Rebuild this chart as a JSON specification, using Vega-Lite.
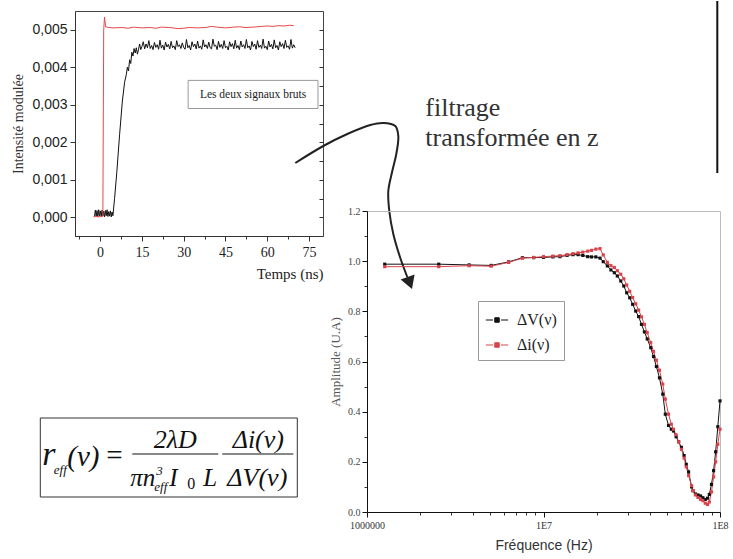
{
 "$schema": "https://vega.github.io/schema/vega-lite/v6.json",
 "padding": {"left": 11, "top": 0, "right": 5, "bottom": 5},
 "background": "white",
 "config": {"view": {"stroke": null}, "axis": {"grid": false, "labelFlush": false}},
 "bounds": "flush",
 "spacing": 44,
 "hconcat": [
  {
   "width": 248, "height": 225,
   "view": {"stroke": "#444", "strokeWidth": 1},
   "resolve": {"axis": {"x": "independent", "y": "independent"}},
   "layer": [
    {
     "data": {"name": "sig"},
     "transform": [{"filter": "datum.s == 'noir'"}],
     "mark": {"type": "line", "color": "#111", "strokeWidth": 1},
     "encoding": {
      "x": {"field": "t", "type": "quantitative", "scale": {"domain": [-9, 80], "nice": false, "zero": false},
            "axis": {"orient": "bottom", "values": [0, 15, 30, 45, 60, 75], "title": "Temps (ns)", "titleAnchor": "end", "titleFont": "Liberation Serif", "titleFontSize": 15, "titleFontWeight": "normal", "titleColor": "#222", "titlePadding": 7, "labelFont": "Liberation Serif", "labelFontSize": 14, "labelColor": "#222", "labelPadding": 4, "tickSize": 5, "tickColor": "#333", "domainColor": "#333"}},
      "y": {"field": "v", "type": "quantitative", "scale": {"domain": [-0.0005, 0.0055], "nice": false, "zero": false},
            "axis": {"orient": "left", "values": [0, 0.001, 0.002, 0.003, 0.004, 0.005], "labelExpr": "replace(format(datum.value, '.3f'), '.', ',')", "title": "Intensité modulée", "titleFont": "Liberation Serif", "titleFontSize": 14, "titleFontWeight": "normal", "titleColor": "#333", "titlePadding": 6, "labelFont": "Liberation Sans", "labelFontSize": 14, "labelColor": "#222", "labelPadding": 3, "tickSize": 5, "tickColor": "#333", "domainColor": "#333"}}
     }
    },
    {
     "data": {"name": "sig"},
     "transform": [{"filter": "datum.s == 'rouge'"}],
     "mark": {"type": "line", "color": "#e8474a", "strokeWidth": 1},
     "encoding": {
      "x": {"field": "t", "type": "quantitative", "scale": {"domain": [-9, 80], "nice": false, "zero": false},
            "axis": {"orient": "bottom", "values": [-7.5, 7.5, 22.5, 37.5, 52.5, 67.5], "labels": false, "title": null, "domain": false, "tickSize": 3, "tickColor": "#333"}},
      "y": {"field": "v", "type": "quantitative", "scale": {"domain": [-0.0005, 0.0055], "nice": false, "zero": false},
            "axis": {"orient": "right", "values": [0, 0.0005, 0.001, 0.0015, 0.002, 0.0025, 0.003, 0.0035, 0.004, 0.0045, 0.005], "labels": false, "title": null, "domain": false, "tickSize": 4, "offset": -4, "tickColor": "#333"}}
     }
    },
    {
     "data": {"name": "boite"},
     "mark": {"type": "rect", "fill": "white", "stroke": "#999", "strokeWidth": 1},
     "encoding": {
      "x": {"field": "t1", "type": "quantitative", "axis": null}, "x2": {"field": "t2"},
      "y": {"field": "v1", "type": "quantitative", "axis": null}, "y2": {"field": "v2"}
     }
    },
    {
     "data": {"name": "boite"},
     "mark": {"type": "text", "font": "Liberation Serif", "fontSize": 11.5, "color": "#222", "align": "center", "baseline": "middle"},
     "encoding": {
      "x": {"field": "tc", "type": "quantitative", "axis": null},
      "y": {"field": "vc", "type": "quantitative", "axis": null},
      "text": {"field": "txt"}
     }
    }
   ]
  },
  {
   "bounds": "flush",
   "spacing": 10,
   "vconcat": [
    {
     "width": 353, "height": 190,
     "view": {"stroke": null},
     "encoding": {
      "x": {"field": "x", "type": "quantitative", "scale": {"domain": [0, 353], "nice": false, "zero": false}, "axis": null},
      "y": {"field": "y", "type": "quantitative", "scale": {"domain": [0, 190], "reverse": true, "nice": false, "zero": false}, "axis": null}
     },
     "layer": [
      {"data": {"name": "barre"}, "mark": {"type": "rule", "color": "#111", "strokeWidth": 2}, "encoding": {"y2": {"field": "y2"}}},
      {"data": {"name": "etiquettes"},
       "mark": {"type": "text", "font": "Liberation Serif", "fontSize": 26, "color": "#333", "align": "left", "baseline": "alphabetic"},
       "encoding": {"text": {"field": "txt"}}},
      {"data": {"name": "fleche"},
       "mark": {"type": "line", "color": "#222", "strokeWidth": 2, "interpolate": "catmull-rom"},
       "encoding": {"order": {"field": "i", "type": "quantitative"}}},
      {"data": {"name": "pointe"},
       "mark": {"type": "point", "shape": "triangle-down", "filled": true, "color": "#222", "size": 220, "angle": -20, "opacity": 1}},
      {"data": {"values": [{"x": -326.7, "x2": -69.7, "y": 407, "y2": 486}]},
       "mark": {"type": "rect", "fill": "white", "stroke": "#333", "strokeWidth": 1},
       "encoding": {"x2": {"field": "x2"}, "y2": {"field": "y2"}}},
      {"data": {"values": [{"x": -234.7, "x2": -148.7, "y": 443}, {"x": -144.7, "x2": -73.7, "y": 443}]},
       "mark": {"type": "rule", "color": "#111", "strokeWidth": 1.2},
       "encoding": {"x2": {"field": "x2"}}},
      {"data": {"values": [{"x": -324.7, "y": 454, "txt": "r"}]},
       "mark": {"type": "text", "font": "Liberation Serif", "fontStyle": "italic", "fontSize": 34, "color": "#111", "align": "left", "baseline": "alphabetic"},
       "encoding": {"text": {"field": "txt"}}},
      {"data": {"values": [{"x": -299.7, "y": 455, "txt": "(ν)"}]},
       "mark": {"type": "text", "font": "Liberation Serif", "fontStyle": "italic", "fontSize": 29, "color": "#111", "align": "left", "baseline": "alphabetic"},
       "encoding": {"text": {"field": "txt"}}},
      {"data": {"values": [{"x": -260.7, "y": 454, "txt": "="}]},
       "mark": {"type": "text", "font": "Liberation Serif", "fontSize": 29, "color": "#111", "align": "left", "baseline": "alphabetic"},
       "encoding": {"text": {"field": "txt"}}},
      {"data": {"values": [{"x": -191.7, "y": 437, "txt": "2λD"}, {"x": -108.7, "y": 437, "txt": "Δi(ν)"}, {"x": -109.7, "y": 475, "txt": "ΔV(ν)"}]},
       "mark": {"type": "text", "font": "Liberation Serif", "fontStyle": "italic", "fontSize": 26, "color": "#111", "align": "center", "baseline": "alphabetic"},
       "encoding": {"text": {"field": "txt"}}},
      {"data": {"values": [{"x": -236.7, "y": 475, "txt": "πn"}, {"x": -197.7, "y": 475, "txt": "I"}, {"x": -163.7, "y": 475, "txt": "L"}]},
       "mark": {"type": "text", "font": "Liberation Serif", "fontStyle": "italic", "fontSize": 25, "color": "#111", "align": "left", "baseline": "alphabetic"},
       "encoding": {"text": {"field": "txt"}}},
      {"data": {"values": [{"x": -313.2, "y": 463, "txt": "eff"}, {"x": -210.7, "y": 464, "txt": "3"}, {"x": -212.7, "y": 480, "txt": "eff"}]},
       "mark": {"type": "text", "font": "Liberation Serif", "fontStyle": "italic", "fontSize": 13, "color": "#111", "align": "left", "baseline": "alphabetic"},
       "encoding": {"text": {"field": "txt"}}},
      {"data": {"values": [{"x": -179.7, "y": 478, "txt": "0"}]},
       "mark": {"type": "text", "font": "Liberation Serif", "fontSize": 16, "color": "#111", "align": "left", "baseline": "alphabetic"},
       "encoding": {"text": {"field": "txt"}}}
     ]
    },
    {
     "width": 353, "height": 301,
     "view": {"stroke": "#bbb", "strokeWidth": 1},
     "resolve": {"axis": {"x": "independent", "y": "independent"}},
     "layer": [
      {
       "data": {"name": "freq"},
       "mark": {"type": "line", "strokeWidth": 1},
       "encoding": {
        "x": {"field": "f", "type": "quantitative", "scale": {"type": "log", "domain": [1000000, 100000000], "nice": false},
              "axis": {"orient": "bottom", "values": [2000000, 3000000, 4000000, 5000000, 6000000, 7000000, 8000000, 9000000, 20000000, 30000000, 40000000, 50000000, 60000000, 70000000, 80000000, 90000000], "labels": false, "title": null, "domain": false, "tickSize": 3, "tickColor": "#333"}},
        "y": {"field": "a", "type": "quantitative", "scale": {"domain": [0, 1.2], "nice": false, "zero": false},
              "axis": {"orient": "left", "values": [0.1, 0.3, 0.5, 0.7, 0.9, 1.1], "labels": false, "title": null, "domain": false, "tickSize": 3, "tickColor": "#333"}},
        "color": {"field": "s", "type": "nominal", "scale": {"domain": ["ΔV(ν)", "Δi(ν)"], "range": ["#111111", "#d9434b"]},
                  "legend": {"orient": "none", "legendX": 403, "legendY": 290, "title": null, "strokeColor": "#999", "fillColor": "#fff", "padding": 7, "labelFont": "Liberation Serif", "labelFontSize": 16, "labelColor": "#222", "symbolType": "M-1,0L-0.35,0M0.35,0L1,0M-0.2,-0.2L0.2,-0.2L0.2,0.2L-0.2,0.2Z", "symbolSize": 500, "symbolStrokeWidth": 1, "rowPadding": 5, "labelOffset": 8,
                             "encode": {"symbols": {"update": {"fill": {"scale": "color", "field": "value"}, "stroke": {"scale": "color", "field": "value"}}}}}}
       }
      },
      {
       "data": {"name": "freq"},
       "mark": {"type": "point", "shape": "square", "filled": true, "size": 10, "opacity": 1},
       "encoding": {
        "x": {"field": "f", "type": "quantitative", "scale": {"type": "log", "domain": [1000000, 100000000], "nice": false},
              "axis": {"orient": "bottom", "values": [1000000, 10000000, 100000000], "labelExpr": "datum.value < 5000000 ? '1000000' : datum.value < 50000000 ? '1E7' : '1E8'", "title": "Fréquence (Hz)", "titleFont": "Liberation Sans", "titleFontSize": 14, "titleFontWeight": "normal", "titleColor": "#333", "titlePadding": 8, "labelFont": "Liberation Sans Narrow", "labelFontSize": 10, "labelColor": "#333", "labelPadding": 3, "tickSize": 5, "tickColor": "#111", "domainColor": "#111"}},
        "y": {"field": "a", "type": "quantitative", "scale": {"domain": [0, 1.2], "nice": false, "zero": false},
              "axis": {"orient": "left", "values": [0, 0.2, 0.4, 0.6, 0.8, 1, 1.2], "format": ".1f", "title": "Amplitude (U.A)", "titleFont": "Liberation Serif", "titleFontSize": 13, "titleFontWeight": "normal", "titleColor": "#555", "titlePadding": 5, "labelFont": "Liberation Sans Narrow", "labelFontSize": 10, "labelColor": "#444", "labelPadding": 2, "tickSize": 5, "tickColor": "#111", "domainColor": "#111"}},
        "color": {"field": "s", "type": "nominal", "scale": {"domain": ["ΔV(ν)", "Δi(ν)"], "range": ["#111111", "#d9434b"]},
                  "legend": {"orient": "none", "legendX": 403, "legendY": 290, "title": null, "strokeColor": "#999", "fillColor": "#fff", "padding": 7, "labelFont": "Liberation Serif", "labelFontSize": 16, "labelColor": "#222", "symbolType": "M-1,0L-0.35,0M0.35,0L1,0M-0.2,-0.2L0.2,-0.2L0.2,0.2L-0.2,0.2Z", "symbolSize": 500, "symbolStrokeWidth": 1, "rowPadding": 5, "labelOffset": 8,
                             "encode": {"symbols": {"update": {"fill": {"scale": "color", "field": "value"}, "stroke": {"scale": "color", "field": "value"}}}}}}
       }
      }
     ]
    }
   ]
  }
 ],
 "datasets": {
  "boite": [{"t1": 31.6, "t2": 78.2, "v1": 0.0029, "v2": 0.00365, "tc": 54.9, "vc": 0.003272, "txt": "Les deux signaux bruts"}],
  "barre": [{"x": 350.3, "y": -10, "y2": 162}],
  "etiquettes": [{"x": 58.3, "y": 105, "txt": "filtrage"}, {"x": 58.3, "y": 135, "txt": "transformée en z"}],
  "fleche": [
   {"i": 1, "x": -71.7, "y": 152}, {"i": 2, "x": -43.7, "y": 135}, {"i": 3, "x": -19.7, "y": 123}, {"i": 4, "x": 3.3, "y": 114},
   {"i": 5, "x": 16.3, "y": 112}, {"i": 6, "x": 28.3, "y": 115}, {"i": 7, "x": 31.3, "y": 125}, {"i": 8, "x": 29.3, "y": 143},
   {"i": 9, "x": 25.3, "y": 160}, {"i": 10, "x": 21.3, "y": 180}, {"i": 11, "x": 22.3, "y": 200}, {"i": 12, "x": 26.3, "y": 223},
   {"i": 13, "x": 33.3, "y": 247}, {"i": 14, "x": 40.3, "y": 266}
  ],
  "pointe": [{"x": 42.8, "y": 272}],
  "sig": [
   {"s": "noir", "t": -2.0, "v": 0.00002}, {"s": "noir", "t": -1.7, "v": 0.00019}, {"s": "noir", "t": -1.4, "v": 0.00003}, {"s": "noir", "t": -1.1, "v": 0.00018},
   {"s": "noir", "t": -0.8, "v": 0.00001}, {"s": "noir", "t": -0.5, "v": 0.0002}, {"s": "noir", "t": -0.2, "v": 0.00004}, {"s": "noir", "t": 0.1, "v": 0.00017},
   {"s": "noir", "t": 0.4, "v": 0.00002}, {"s": "noir", "t": 0.7, "v": 0.00019}, {"s": "noir", "t": 1.0, "v": 0.00003}, {"s": "noir", "t": 1.3, "v": 0.00016},
   {"s": "noir", "t": 1.6, "v": 0.00001}, {"s": "noir", "t": 1.9, "v": 0.00018}, {"s": "noir", "t": 2.2, "v": 0.00004}, {"s": "noir", "t": 2.5, "v": 0.0002},
   {"s": "noir", "t": 2.8, "v": 0.00002}, {"s": "noir", "t": 3.1, "v": 0.00015}, {"s": "noir", "t": 3.4, "v": 0.00003}, {"s": "noir", "t": 3.7, "v": 0.00017},
   {"s": "noir", "t": 4.0, "v": 0.00001}, {"s": "noir", "t": 4.3, "v": 0.00014}, {"s": "noir", "t": 4.6, "v": 0.00004},
   {"s": "noir", "t": 5.2, "v": 0.0005}, {"s": "noir", "t": 6.0, "v": 0.0012}, {"s": "noir", "t": 7.0, "v": 0.0022}, {"s": "noir", "t": 8.0, "v": 0.0031},
   {"s": "noir", "t": 8.8, "v": 0.0036}, {"s": "noir", "t": 9.4, "v": 0.0038}, {"s": "noir", "t": 9.8, "v": 0.004}, {"s": "noir", "t": 10.2, "v": 0.0039},
   {"s": "noir", "t": 10.6, "v": 0.0042}, {"s": "noir", "t": 11.0, "v": 0.0041}, {"s": "noir", "t": 11.4, "v": 0.0044}, {"s": "noir", "t": 11.8, "v": 0.0043},
   {"s": "noir", "t": 12.2, "v": 0.0045}, {"s": "noir", "t": 12.6, "v": 0.00438}, {"s": "noir", "t": 13.0, "v": 0.00452}, {"s": "noir", "t": 13.4, "v": 0.00435},
   {"s": "noir", "t": 13.8, "v": 0.00448}, {"s": "noir", "t": 14.2, "v": 0.00462}, {"s": "noir", "t": 14.6, "v": 0.00447},
   {"s": "noir", "t": 15.0, "v": 0.00455}, {"s": "noir", "t": 15.5, "v": 0.00468}, {"s": "noir", "t": 16.0, "v": 0.00449}, {"s": "noir", "t": 16.5, "v": 0.00462},
   {"s": "noir", "t": 17.0, "v": 0.00452}, {"s": "noir", "t": 17.5, "v": 0.00471}, {"s": "noir", "t": 18.0, "v": 0.0045}, {"s": "noir", "t": 18.5, "v": 0.00458},
   {"s": "noir", "t": 19.0, "v": 0.00447}, {"s": "noir", "t": 19.5, "v": 0.00466}, {"s": "noir", "t": 20.0, "v": 0.00453}, {"s": "noir", "t": 20.5, "v": 0.0046},
   {"s": "noir", "t": 21.0, "v": 0.00448}, {"s": "noir", "t": 21.5, "v": 0.00472}, {"s": "noir", "t": 22.0, "v": 0.00451}, {"s": "noir", "t": 22.5, "v": 0.00459},
   {"s": "noir", "t": 23.0, "v": 0.00446}, {"s": "noir", "t": 23.5, "v": 0.00467}, {"s": "noir", "t": 24.0, "v": 0.00454}, {"s": "noir", "t": 24.5, "v": 0.00461},
   {"s": "noir", "t": 25.0, "v": 0.00449}, {"s": "noir", "t": 25.5, "v": 0.00469}, {"s": "noir", "t": 26.0, "v": 0.00452}, {"s": "noir", "t": 26.5, "v": 0.00457},
   {"s": "noir", "t": 27.0, "v": 0.00447}, {"s": "noir", "t": 27.5, "v": 0.00471}, {"s": "noir", "t": 28.0, "v": 0.00455}, {"s": "noir", "t": 28.5, "v": 0.0046},
   {"s": "noir", "t": 29.0, "v": 0.0045}, {"s": "noir", "t": 29.5, "v": 0.00465}, {"s": "noir", "t": 30.0, "v": 0.00453}, {"s": "noir", "t": 30.5, "v": 0.00448},
   {"s": "noir", "t": 31.0, "v": 0.00474}, {"s": "noir", "t": 31.5, "v": 0.00452}, {"s": "noir", "t": 32.0, "v": 0.00458}, {"s": "noir", "t": 32.5, "v": 0.00446},
   {"s": "noir", "t": 33.0, "v": 0.00468}, {"s": "noir", "t": 33.5, "v": 0.00455}, {"s": "noir", "t": 34.0, "v": 0.00462}, {"s": "noir", "t": 34.5, "v": 0.00449},
   {"s": "noir", "t": 35.0, "v": 0.0047}, {"s": "noir", "t": 35.5, "v": 0.00451}, {"s": "noir", "t": 36.0, "v": 0.00457}, {"s": "noir", "t": 36.5, "v": 0.00448},
   {"s": "noir", "t": 37.0, "v": 0.00473}, {"s": "noir", "t": 37.5, "v": 0.00454}, {"s": "noir", "t": 38.0, "v": 0.0046}, {"s": "noir", "t": 38.5, "v": 0.0045},
   {"s": "noir", "t": 39.0, "v": 0.00467}, {"s": "noir", "t": 39.5, "v": 0.00452}, {"s": "noir", "t": 40.0, "v": 0.00449}, {"s": "noir", "t": 40.5, "v": 0.00475},
   {"s": "noir", "t": 41.0, "v": 0.00456}, {"s": "noir", "t": 41.5, "v": 0.00459}, {"s": "noir", "t": 42.0, "v": 0.00447}, {"s": "noir", "t": 42.5, "v": 0.00469},
   {"s": "noir", "t": 43.0, "v": 0.00453}, {"s": "noir", "t": 43.5, "v": 0.00461}, {"s": "noir", "t": 44.0, "v": 0.0045}, {"s": "noir", "t": 44.5, "v": 0.00471},
   {"s": "noir", "t": 45.0, "v": 0.00452}, {"s": "noir", "t": 45.5, "v": 0.00456}, {"s": "noir", "t": 46.0, "v": 0.00446}, {"s": "noir", "t": 46.5, "v": 0.00468},
   {"s": "noir", "t": 47.0, "v": 0.00455}, {"s": "noir", "t": 47.5, "v": 0.00463}, {"s": "noir", "t": 48.0, "v": 0.00449}, {"s": "noir", "t": 48.5, "v": 0.00472},
   {"s": "noir", "t": 49.0, "v": 0.00451}, {"s": "noir", "t": 49.5, "v": 0.00458}, {"s": "noir", "t": 50.0, "v": 0.00447}, {"s": "noir", "t": 50.5, "v": 0.0047},
   {"s": "noir", "t": 51.0, "v": 0.00454}, {"s": "noir", "t": 51.5, "v": 0.0046}, {"s": "noir", "t": 52.0, "v": 0.0045}, {"s": "noir", "t": 52.5, "v": 0.00474},
   {"s": "noir", "t": 53.0, "v": 0.00452}, {"s": "noir", "t": 53.5, "v": 0.00457}, {"s": "noir", "t": 54.0, "v": 0.00446}, {"s": "noir", "t": 54.5, "v": 0.00469},
   {"s": "noir", "t": 55.0, "v": 0.00455}, {"s": "noir", "t": 55.5, "v": 0.00462}, {"s": "noir", "t": 56.0, "v": 0.00448}, {"s": "noir", "t": 56.5, "v": 0.00471},
   {"s": "noir", "t": 57.0, "v": 0.00453}, {"s": "noir", "t": 57.5, "v": 0.00459}, {"s": "noir", "t": 58.0, "v": 0.0045}, {"s": "noir", "t": 58.5, "v": 0.00475},
   {"s": "noir", "t": 59.0, "v": 0.00451}, {"s": "noir", "t": 59.5, "v": 0.00456}, {"s": "noir", "t": 60.0, "v": 0.00447}, {"s": "noir", "t": 60.5, "v": 0.0047},
   {"s": "noir", "t": 61.0, "v": 0.00454}, {"s": "noir", "t": 61.5, "v": 0.00461}, {"s": "noir", "t": 62.0, "v": 0.00449}, {"s": "noir", "t": 62.5, "v": 0.00473},
   {"s": "noir", "t": 63.0, "v": 0.00452}, {"s": "noir", "t": 63.5, "v": 0.00458}, {"s": "noir", "t": 64.0, "v": 0.00446}, {"s": "noir", "t": 64.5, "v": 0.00468},
   {"s": "noir", "t": 65.0, "v": 0.00455}, {"s": "noir", "t": 65.5, "v": 0.00463}, {"s": "noir", "t": 66.0, "v": 0.0045}, {"s": "noir", "t": 66.5, "v": 0.00472},
   {"s": "noir", "t": 67.0, "v": 0.00453}, {"s": "noir", "t": 67.5, "v": 0.00457}, {"s": "noir", "t": 68.0, "v": 0.00448}, {"s": "noir", "t": 68.5, "v": 0.00474},
   {"s": "noir", "t": 69.0, "v": 0.00451}, {"s": "noir", "t": 69.5, "v": 0.0046}, {"s": "noir", "t": 70.0, "v": 0.00452},
   {"s": "rouge", "t": -2.4, "v": 0.00001}, {"s": "rouge", "t": -1.5, "v": 0.00002}, {"s": "rouge", "t": -0.5, "v": 0.00001}, {"s": "rouge", "t": 0.5, "v": 0.00002},
   {"s": "rouge", "t": 1.0, "v": 0.00003}, {"s": "rouge", "t": 1.3, "v": 0.005}, {"s": "rouge", "t": 1.6, "v": 0.00534}, {"s": "rouge", "t": 2.0, "v": 0.00508},
   {"s": "rouge", "t": 3, "v": 0.00506}, {"s": "rouge", "t": 5, "v": 0.00505}, {"s": "rouge", "t": 8, "v": 0.00506}, {"s": "rouge", "t": 10, "v": 0.00504},
   {"s": "rouge", "t": 12, "v": 0.00507}, {"s": "rouge", "t": 15, "v": 0.00505}, {"s": "rouge", "t": 18, "v": 0.00506}, {"s": "rouge", "t": 20, "v": 0.00504},
   {"s": "rouge", "t": 22, "v": 0.00507}, {"s": "rouge", "t": 25, "v": 0.00506}, {"s": "rouge", "t": 28, "v": 0.00503}, {"s": "rouge", "t": 30, "v": 0.00504},
   {"s": "rouge", "t": 32, "v": 0.00506}, {"s": "rouge", "t": 35, "v": 0.00505}, {"s": "rouge", "t": 38, "v": 0.00506}, {"s": "rouge", "t": 40, "v": 0.00509},
   {"s": "rouge", "t": 42, "v": 0.00507}, {"s": "rouge", "t": 45, "v": 0.00505}, {"s": "rouge", "t": 48, "v": 0.00507}, {"s": "rouge", "t": 50, "v": 0.00508},
   {"s": "rouge", "t": 52, "v": 0.00506}, {"s": "rouge", "t": 55, "v": 0.00507}, {"s": "rouge", "t": 58, "v": 0.00509}, {"s": "rouge", "t": 60, "v": 0.0051},
   {"s": "rouge", "t": 62, "v": 0.00509}, {"s": "rouge", "t": 64, "v": 0.00511}, {"s": "rouge", "t": 66, "v": 0.0051}, {"s": "rouge", "t": 68, "v": 0.00512},
   {"s": "rouge", "t": 69.5, "v": 0.00511}
  ],
  "freq": [
   {"s": "ΔV(ν)", "f": 1260000, "a": 0.988}, {"s": "ΔV(ν)", "f": 2550000, "a": 0.988}, {"s": "ΔV(ν)", "f": 3790000, "a": 0.985}, {"s": "ΔV(ν)", "f": 5050000, "a": 0.983},
   {"s": "ΔV(ν)", "f": 6340000, "a": 0.997}, {"s": "ΔV(ν)", "f": 7600000, "a": 1.014}, {"s": "ΔV(ν)", "f": 8800000, "a": 1.014}, {"s": "ΔV(ν)", "f": 10000000, "a": 1.015},
   {"s": "ΔV(ν)", "f": 11300000, "a": 1.017}, {"s": "ΔV(ν)", "f": 12400000, "a": 1.018}, {"s": "ΔV(ν)", "f": 13600000, "a": 1.023}, {"s": "ΔV(ν)", "f": 14700000, "a": 1.026},
   {"s": "ΔV(ν)", "f": 15700000, "a": 1.026}, {"s": "ΔV(ν)", "f": 16700000, "a": 1.023}, {"s": "ΔV(ν)", "f": 17800000, "a": 1.018}, {"s": "ΔV(ν)", "f": 18700000, "a": 1.017},
   {"s": "ΔV(ν)", "f": 19800000, "a": 1.017}, {"s": "ΔV(ν)", "f": 20900000, "a": 1.012}, {"s": "ΔV(ν)", "f": 21800000, "a": 0.998}, {"s": "ΔV(ν)", "f": 23000000, "a": 0.981},
   {"s": "ΔV(ν)", "f": 24100000, "a": 0.965}, {"s": "ΔV(ν)", "f": 25200000, "a": 0.954}, {"s": "ΔV(ν)", "f": 26200000, "a": 0.941}, {"s": "ΔV(ν)", "f": 27400000, "a": 0.921},
   {"s": "ΔV(ν)", "f": 28500000, "a": 0.901}, {"s": "ΔV(ν)", "f": 29600000, "a": 0.874}, {"s": "ΔV(ν)", "f": 30800000, "a": 0.854}, {"s": "ΔV(ν)", "f": 32000000, "a": 0.828},
   {"s": "ΔV(ν)", "f": 33300000, "a": 0.801}, {"s": "ΔV(ν)", "f": 34600000, "a": 0.779}, {"s": "ΔV(ν)", "f": 35900000, "a": 0.748}, {"s": "ΔV(ν)", "f": 37300000, "a": 0.718},
   {"s": "ΔV(ν)", "f": 38700000, "a": 0.69}, {"s": "ΔV(ν)", "f": 40500000, "a": 0.655}, {"s": "ΔV(ν)", "f": 42000000, "a": 0.62}, {"s": "ΔV(ν)", "f": 43600000, "a": 0.58},
   {"s": "ΔV(ν)", "f": 45400000, "a": 0.535}, {"s": "ΔV(ν)", "f": 47400000, "a": 0.47}, {"s": "ΔV(ν)", "f": 49000000, "a": 0.39}, {"s": "ΔV(ν)", "f": 51100000, "a": 0.345},
   {"s": "ΔV(ν)", "f": 53000000, "a": 0.33}, {"s": "ΔV(ν)", "f": 54500000, "a": 0.323}, {"s": "ΔV(ν)", "f": 56400000, "a": 0.3}, {"s": "ΔV(ν)", "f": 58300000, "a": 0.28},
   {"s": "ΔV(ν)", "f": 60500000, "a": 0.258}, {"s": "ΔV(ν)", "f": 62600000, "a": 0.225}, {"s": "ΔV(ν)", "f": 64400000, "a": 0.19}, {"s": "ΔV(ν)", "f": 66400000, "a": 0.16},
   {"s": "ΔV(ν)", "f": 69000000, "a": 0.1}, {"s": "ΔV(ν)", "f": 70300000, "a": 0.085}, {"s": "ΔV(ν)", "f": 72600000, "a": 0.072}, {"s": "ΔV(ν)", "f": 75000000, "a": 0.068},
   {"s": "ΔV(ν)", "f": 77600000, "a": 0.064}, {"s": "ΔV(ν)", "f": 80000000, "a": 0.057}, {"s": "ΔV(ν)", "f": 82500000, "a": 0.05}, {"s": "ΔV(ν)", "f": 85000000, "a": 0.055},
   {"s": "ΔV(ν)", "f": 87000000, "a": 0.07}, {"s": "ΔV(ν)", "f": 89500000, "a": 0.11}, {"s": "ΔV(ν)", "f": 92000000, "a": 0.165}, {"s": "ΔV(ν)", "f": 94500000, "a": 0.24},
   {"s": "ΔV(ν)", "f": 97200000, "a": 0.34}, {"s": "ΔV(ν)", "f": 100000000, "a": 0.443},
   {"s": "Δi(ν)", "f": 1260000, "a": 0.978}, {"s": "Δi(ν)", "f": 2550000, "a": 0.978}, {"s": "Δi(ν)", "f": 3790000, "a": 0.982}, {"s": "Δi(ν)", "f": 5050000, "a": 0.98},
   {"s": "Δi(ν)", "f": 6340000, "a": 0.995}, {"s": "Δi(ν)", "f": 7600000, "a": 1.012}, {"s": "Δi(ν)", "f": 8800000, "a": 1.015}, {"s": "Δi(ν)", "f": 10000000, "a": 1.018},
   {"s": "Δi(ν)", "f": 11300000, "a": 1.02}, {"s": "Δi(ν)", "f": 12400000, "a": 1.022}, {"s": "Δi(ν)", "f": 13600000, "a": 1.026}, {"s": "Δi(ν)", "f": 14700000, "a": 1.03},
   {"s": "Δi(ν)", "f": 15700000, "a": 1.033}, {"s": "Δi(ν)", "f": 16700000, "a": 1.036}, {"s": "Δi(ν)", "f": 17800000, "a": 1.04}, {"s": "Δi(ν)", "f": 18700000, "a": 1.043},
   {"s": "Δi(ν)", "f": 19800000, "a": 1.048}, {"s": "Δi(ν)", "f": 20900000, "a": 1.05}, {"s": "Δi(ν)", "f": 21800000, "a": 1.025}, {"s": "Δi(ν)", "f": 23000000, "a": 0.995},
   {"s": "Δi(ν)", "f": 24100000, "a": 0.982}, {"s": "Δi(ν)", "f": 25200000, "a": 0.975}, {"s": "Δi(ν)", "f": 26200000, "a": 0.962}, {"s": "Δi(ν)", "f": 27400000, "a": 0.948},
   {"s": "Δi(ν)", "f": 28500000, "a": 0.93}, {"s": "Δi(ν)", "f": 29600000, "a": 0.905}, {"s": "Δi(ν)", "f": 30800000, "a": 0.88}, {"s": "Δi(ν)", "f": 32000000, "a": 0.855},
   {"s": "Δi(ν)", "f": 33300000, "a": 0.83}, {"s": "Δi(ν)", "f": 34600000, "a": 0.805}, {"s": "Δi(ν)", "f": 35900000, "a": 0.778}, {"s": "Δi(ν)", "f": 37300000, "a": 0.748},
   {"s": "Δi(ν)", "f": 38700000, "a": 0.715}, {"s": "Δi(ν)", "f": 40500000, "a": 0.675}, {"s": "Δi(ν)", "f": 42000000, "a": 0.64}, {"s": "Δi(ν)", "f": 43600000, "a": 0.605},
   {"s": "Δi(ν)", "f": 45400000, "a": 0.565}, {"s": "Δi(ν)", "f": 47400000, "a": 0.51}, {"s": "Δi(ν)", "f": 49000000, "a": 0.45}, {"s": "Δi(ν)", "f": 51100000, "a": 0.39},
   {"s": "Δi(ν)", "f": 53000000, "a": 0.35}, {"s": "Δi(ν)", "f": 54500000, "a": 0.33}, {"s": "Δi(ν)", "f": 56400000, "a": 0.308}, {"s": "Δi(ν)", "f": 58300000, "a": 0.28},
   {"s": "Δi(ν)", "f": 60500000, "a": 0.25}, {"s": "Δi(ν)", "f": 62600000, "a": 0.215}, {"s": "Δi(ν)", "f": 64400000, "a": 0.18}, {"s": "Δi(ν)", "f": 66400000, "a": 0.145},
   {"s": "Δi(ν)", "f": 69000000, "a": 0.105}, {"s": "Δi(ν)", "f": 70300000, "a": 0.085}, {"s": "Δi(ν)", "f": 72600000, "a": 0.068}, {"s": "Δi(ν)", "f": 75000000, "a": 0.058},
   {"s": "Δi(ν)", "f": 77600000, "a": 0.05}, {"s": "Δi(ν)", "f": 80000000, "a": 0.045}, {"s": "Δi(ν)", "f": 82500000, "a": 0.035}, {"s": "Δi(ν)", "f": 85000000, "a": 0.03},
   {"s": "Δi(ν)", "f": 87000000, "a": 0.04}, {"s": "Δi(ν)", "f": 89500000, "a": 0.08}, {"s": "Δi(ν)", "f": 92000000, "a": 0.14}, {"s": "Δi(ν)", "f": 94500000, "a": 0.2},
   {"s": "Δi(ν)", "f": 97200000, "a": 0.27}, {"s": "Δi(ν)", "f": 100000000, "a": 0.33}
  ]
 }
}
